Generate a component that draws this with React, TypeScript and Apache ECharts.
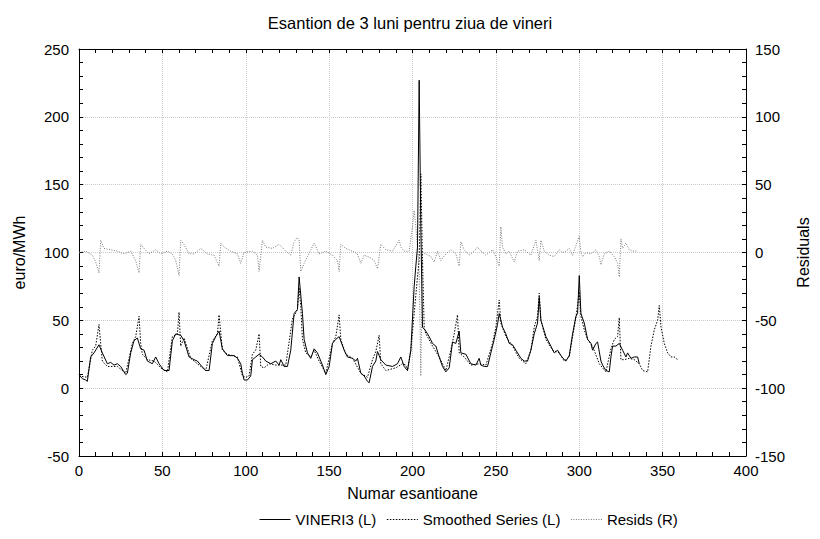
import React, { useEffect, useRef } from "react";
import * as echarts from "echarts";

const TITLE = "Esantion de 3 luni pentru ziua de vineri";
const X_NAME = "Numar esantioane";
const Y_LEFT_NAME = "euro/MWh";
const Y_RIGHT_NAME = "Residuals";
const SERIES_NAMES = ["VINERI3 (L)", "Smoothed Series (L)", "Resids (R)"];

// [sample index, euro/MWh]
const vineri3: [number, number][] = [
  [0,10],[2,7],[4,6],[5,5],[6,14],[7,23],[9,26],[12,32],[14,26],[17,18],[19,19],[21,17],[23,18],[25,16],[28,10],[29,11],[31,26],[33,35],[35,37],[37,29],[39,28],[41,20],[44,18],[46,23],[48,18],[51,13],[54,13],[56,35],[58,40],[61,39],[63,35],[66,23],[69,21],[71,20],[73,17],[76,13],[78,13],[80,33],[82,38],[84,42],[86,29],[89,24],[93,24],[95,22],[97,18],[98,11],[99,6],
  [101,6],[103,9],[104,21],[106,23],[108,25],[110,23],[112,20],[115,18],[118,20],[120,17],[121,21],[123,16],[125,16],[127,28],[129,55],[131,58],[132,82],[134,55],[135,36],[137,26],[139,22],[141,29],[143,26],[146,17],[148,10],[150,16],[152,33],[154,36],[156,38],[159,28],[161,23],[164,22],[166,20],[167,22],[169,11],[171,9],[173,5],[174,4],[176,16],[178,20],[179,27],[181,21],[184,17],[188,16],[191,18],[193,23],[195,16],
  [197,13],[199,28],[201,75],[202,90],[203,104],[204,227],[205,119],[206,45],[208,42],[210,38],[212,33],[214,31],[216,23],[218,16],[220,12],[222,15],[224,34],[226,33],[228,42],[229,26],[232,25],[235,18],[238,17],[240,22],[241,17],[243,16],[245,16],[247,26],[249,36],[251,47],[252,55],[254,45],[256,40],[258,33],[260,32],[262,28],[265,22],[267,20],[269,20],[271,28],[273,40],[275,48],[276,67],[277,50],[280,38],[283,31],[285,26],[287,28],[289,24],[291,21],[292,20],
  [294,24],[296,40],[298,53],[299,55],[300,83],[301,55],[303,48],[305,36],[307,33],[308,28],[310,33],[311,34],[313,20],[314,17],[316,13],[318,12],[319,23],[320,31],[322,31],[324,33],[326,28],[328,23],[329,26],[331,22],[333,23],[335,23],[336,18]
];

// [sample index, euro/MWh]
const smoothed: [number, number][] = [
  [0,9],[5,8],[8,28],[10,31],[12,47],[13,33],[14,20],[17,16],[23,16],[28,11],[32,33],[34,38],[36,53],[37,33],[38,25],[41,21],[45,20],[49,15],[53,12],[56,38],[59,40],[60,56],[61,31],[63,37],[67,22],[71,18],[76,13],[80,35],[83,40],[84,54],[86,28],[89,25],[95,23],[98,9],[100,8],
  [102,9],[104,25],[106,28],[108,40],[109,16],[111,15],[114,18],[118,17],[124,17],[128,51],[131,58],[132,74],[133,60],[134,36],[136,26],[139,23],[141,28],[144,20],[148,11],[152,33],[154,38],[156,54],[157,36],[160,25],[164,22],[169,11],[173,8],[176,21],[178,27],[180,39],[181,18],[184,13],[190,15],[194,18],[196,17],[197,13],
  [199,28],[203,82],[204,94],[205,158],[206,95],[207,45],[208,40],[209,38],[212,31],[216,23],[220,13],[223,28],[225,40],[227,54],[228,26],[231,23],[235,17],[240,18],[244,17],[248,33],[250,45],[252,65],[253,48],[256,38],[260,31],[264,22],[268,18],[271,28],[273,45],[275,53],[276,70],[277,50],[280,36],[284,28],[288,26],[291,20],
  [294,23],[296,38],[298,52],[300,71],[301,53],[303,43],[305,36],[308,31],[312,18],[316,12],[319,29],[321,36],[323,38],[324,52],[325,21],[327,21],[330,22],[333,21],[336,18],[338,13],[341,12],[343,31],[345,43],[347,50],[348,61],[349,45],[351,33],[353,26],[355,23],[357,23],[359,21]
];

// [sample index, residual]
const resids: [number, number][] = [
  [0,0],[4,1],[8,-2],[10,-7],[12,-15],[13,9],[15,3],[19,2],[23,1],[27,-1],[31,1],[34,-6],[36,-15],[37,6],[39,3],[42,-1],[46,2],[49,-1],[53,1],[56,-1],[58,-6],[60,-17],[61,9],[63,6],[66,-1],[69,-1],[73,3],[77,-1],[81,-2],[84,-10],[85,7],[87,4],[91,1],[95,-1],[97,-8],[99,0],
  [104,1],[107,-2],[108,-14],[110,9],[112,4],[116,3],[120,6],[124,1],[127,-2],[129,8],[131,11],[132,9],[133,-14],[135,-8],[137,-3],[139,2],[141,7],[144,-1],[148,1],[152,-2],[155,-6],[156,-14],[157,6],[160,3],[164,1],[167,-1],[169,-8],[171,-2],[175,-4],[177,-6],[179,-12],[181,6],[184,2],[188,1],[192,9],[193,4],[195,1],[198,1],
  [200,19],[201,31],[202,19],[203,4],[204,-15],[205,-91],[206,0],[208,-1],[211,-3],[213,-7],[215,1],[217,-6],[220,-1],[223,2],[226,-1],[228,-10],[229,8],[231,2],[234,-2],[237,1],[239,4],[241,1],[244,-2],[248,2],[250,-3],[252,-10],[253,19],[254,4],[256,-1],[258,1],[261,-7],[263,1],[267,2],[271,-2],[274,9],[276,-6],[277,9],[279,1],[282,-2],[285,-3],
  [288,2],[290,0],[292,1],[294,3],[296,-2],[298,5],[300,12],[301,0],[302,-3],[304,0],[307,-1],[310,2],[312,-3],[313,-9],[315,-1],[318,1],[321,-3],[323,-8],[324,-18],[325,10],[326,3],[328,7],[330,2],[332,1],[335,1]
];

const FONT = "'Liberation Sans', Arial, sans-serif";

export default function App() {
  const ref = useRef<HTMLDivElement>(null);
  useEffect(() => {
    if (!ref.current) return;
    const chart = echarts.init(ref.current, undefined, { renderer: "svg" });
    const tick = { show: true, inside: true, length: 4, lineStyle: { color: "#000", width: 1 } };
    const minor = { show: true, splitNumber: 5, length: 4, lineStyle: { color: "#000", width: 1 } };
    const axisLine = { show: true, onZero: false, lineStyle: { color: "#000", width: 1 } };
    const grid = { show: true, lineStyle: { color: "#c8c8c8", type: "dotted" as const, width: 1 } };
    chart.setOption({
      animation: false,
      backgroundColor: "#fff",
      textStyle: { fontFamily: FONT, color: "#000" },
      title: {
        text: TITLE,
        left: "center",
        top: 9,
        textStyle: { fontFamily: FONT, fontSize: 16.5, fontWeight: "normal", color: "#000" },
      },
      legend: {
        bottom: 7,
        left: 254,
        itemWidth: 31,
        itemHeight: 10,
        itemGap: 10,
        itemStyle: { opacity: 0 },
        lineStyle: { width: 1 },
        textStyle: { fontFamily: FONT, fontSize: 15, color: "#000" },
        data: SERIES_NAMES,
      },
      grid: { left: 79, top: 49, width: 667, height: 407, containLabel: false },
      xAxis: [
        {
          type: "value", min: 0, max: 400, interval: 50,
          name: X_NAME, nameLocation: "middle", nameGap: 29,
          nameTextStyle: { fontFamily: FONT, fontSize: 16, color: "#000" },
          axisLine, axisTick: tick, minorTick: minor, splitLine: grid,
          axisLabel: { fontFamily: FONT, fontSize: 15, color: "#000", margin: 7 },
        },
        {
          type: "value", min: 0, max: 400, interval: 50, position: "top",
          axisLine, axisTick: tick, minorTick: minor, splitLine: { show: false },
          axisLabel: { show: false },
        },
      ],
      yAxis: [
        {
          type: "value", min: -50, max: 250, interval: 50, position: "left",
          name: Y_LEFT_NAME, nameLocation: "middle", nameGap: 52, nameRotate: 90,
          nameTextStyle: { fontFamily: FONT, fontSize: 16, color: "#000" },
          axisLine, axisTick: tick, minorTick: minor, splitLine: grid,
          axisLabel: { fontFamily: FONT, fontSize: 15, color: "#000", margin: 10 },
        },
        {
          type: "value", min: -150, max: 150, interval: 50, position: "right",
          name: Y_RIGHT_NAME, nameLocation: "middle", nameGap: 46, nameRotate: 90,
          nameTextStyle: { fontFamily: FONT, fontSize: 16, color: "#000" },
          axisLine, axisTick: tick, minorTick: minor, splitLine: { show: false },
          axisLabel: { fontFamily: FONT, fontSize: 15, color: "#000", margin: 9 },
        },
      ],
      series: [
        {
          name: SERIES_NAMES[0], type: "line", data: vineri3, xAxisIndex: 0, yAxisIndex: 0,
          symbol: "none", lineStyle: { color: "#000", width: 1 }, itemStyle: { color: "#000" }, z: 3,
        },
        {
          name: SERIES_NAMES[1], type: "line", data: smoothed, xAxisIndex: 0, yAxisIndex: 0,
          symbol: "none", lineStyle: { color: "#000", width: 1, type: [1.5, 1.5] }, itemStyle: { color: "#000" }, z: 2,
        },
        {
          name: SERIES_NAMES[2], type: "line", data: resids, xAxisIndex: 0, yAxisIndex: 1,
          symbol: "none", lineStyle: { color: "#777", width: 1, type: [1, 1.5] }, itemStyle: { color: "#777" }, z: 1,
        },
      ],
    });
    return () => chart.dispose();
  }, []);
  return (
    <div
      ref={ref}
      style={{ position: "fixed", left: 0, top: 0, width: 820, height: 539, background: "#fff" }}
    />
  );
}
